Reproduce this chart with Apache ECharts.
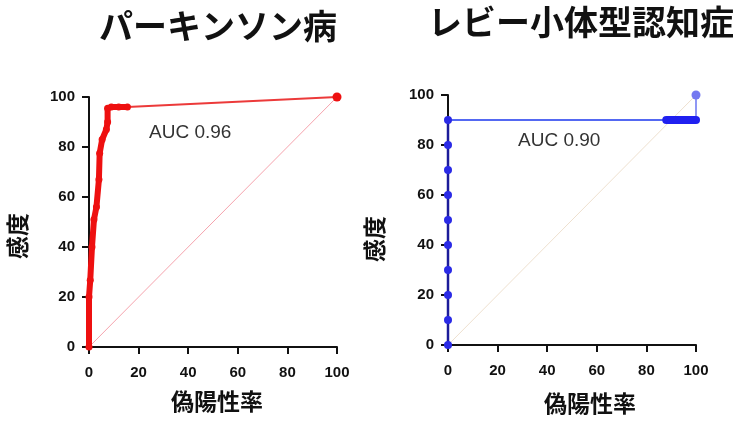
<!DOCTYPE html>
<html>
<head>
<meta charset="utf-8">
<script src="https://cdn.jsdelivr.net/npm/echarts@6/dist/echarts.min.js"></script>
<style>
  html, body { margin: 0; padding: 0; background: #fff; }
  #chart { width: 740px; height: 421px; }
</style>
</head>
<body>
<div id="chart"></div>
<script>
// パーキンソン病 ROC (偽陽性率 %, 感度 %)
const pdFpr = [0, 0, 0.5, 1.2, 2, 3, 4, 4.3, 5.3, 7, 7.5, 7.5, 9, 12, 15.5];
const pdTpr = [0, 20, 26.7, 40, 51, 56, 67, 77.5, 83, 87, 90, 95.5, 96, 96, 96];
const pdTailFpr = [15.5, 100];
const pdTailTpr = [96, 100];

// レビー小体型認知症 ROC
const dlbAxisFpr = [0, 0, 0, 0, 0, 0, 0, 0, 0, 0];
const dlbAxisTpr = [0, 10, 20, 30, 40, 50, 60, 70, 80, 90];
const dlbLineFpr = [0, 88];
const dlbLineTpr = [90, 90];
const dlbBlobFpr = [88, 90, 92, 94, 96, 98, 100];
const dlbBlobTpr = [90, 90, 90, 90, 90, 90, 90];
const dlbTopFpr = [100, 100];
const dlbTopTpr = [90, 100];

const diagonal = [[0, 0], [100, 100]];

const titles = ['パーキンソン病', 'レビー小体型認知症'];
const aucLabels = ['AUC 0.96', 'AUC 0.90'];
const xName = '偽陽性率';
const yName = '感度';

const zip = (xs, ys) => xs.map((x, i) => [x, ys[i]]);

const cjk = '"Noto Sans CJK JP", sans-serif';
const latin = '"Liberation Sans", Arial, sans-serif';

const labelStyle = { color: '#111', fontSize: 15, fontWeight: 'bold', fontFamily: latin };
const nameStyle = { fontSize: 23, fontWeight: 'bold', fill: '#111', fontFamily: cjk };

// 目盛り線は透明な splitLine と一緒に出す
const axisCommon = () => ({
  type: 'value', min: 0, max: 100, interval: 20,
  axisLine: { show: true, onZero: false, lineStyle: { color: '#111', width: 2 } },
  axisTick: { show: true, inside: false, length: 7, lineStyle: { color: '#111', width: 2 } },
  splitLine: { show: true, lineStyle: { color: 'rgba(0,0,0,0)', width: 0 } },
});

const makeX = (gridIndex) => ({
  ...axisCommon(), gridIndex,
  axisLabel: { ...labelStyle, margin: 18 },
});

const makeY = (gridIndex) => ({
  ...axisCommon(), gridIndex,
  axisLabel: { ...labelStyle, margin: 14 },
});

const chart = echarts.init(document.getElementById('chart'));

const option = {
  backgroundColor: '#fff',
  animation: false,
  title: [
    {
      text: titles[0], left: 213, top: 4, textAlign: 'center',
      textStyle: { fontSize: 34, fontWeight: 'bold', color: '#111', fontFamily: cjk },
    },
    {
      text: titles[1], left: 576, top: 0, textAlign: 'center',
      textStyle: { fontSize: 34, fontWeight: 'bold', color: '#111', fontFamily: cjk },
    },
  ],
  graphic: [
    { type: 'text', left: 149, top: 123, style: { text: aucLabels[0], fontSize: 19, fill: '#333', fontFamily: latin } },
    { type: 'text', left: 518, top: 131, style: { text: aucLabels[1], fontSize: 19, fill: '#333', fontFamily: latin } },
    // 軸名
    { type: 'text', left: 171, top: 390, style: { text: xName, ...nameStyle } },
    { type: 'text', left: 544, top: 392, style: { text: xName, ...nameStyle } },
    { type: 'text', x: 6, y: 259, rotation: Math.PI / 2, style: { text: yName, ...nameStyle } },
    { type: 'text', x: 363, y: 262, rotation: Math.PI / 2, style: { text: yName, ...nameStyle } },
  ],
  grid: [
    { left: 89, top: 97, width: 248, height: 250 },
    { left: 448, top: 95, width: 248, height: 250 },
  ],
  xAxis: [makeX(0), makeX(1)],
  yAxis: [makeY(0), makeY(1)],
  series: [
    // 参照線
    {
      type: 'line', xAxisIndex: 0, yAxisIndex: 0,
      data: diagonal, showSymbol: false,
      lineStyle: { color: '#f5a3ad', width: 1 }, z: 1,
    },
    {
      type: 'line', xAxisIndex: 1, yAxisIndex: 1,
      data: diagonal, showSymbol: false,
      lineStyle: { color: '#eee0cf', width: 1 }, z: 1,
    },
    // パーキンソン病
    {
      type: 'line', xAxisIndex: 0, yAxisIndex: 0,
      data: zip(pdFpr, pdTpr),
      symbol: 'circle', symbolSize: 7,
      itemStyle: { color: '#ee1010' },
      lineStyle: { color: '#ee1010', width: 6 }, z: 4,
    },
    {
      type: 'line', xAxisIndex: 0, yAxisIndex: 0,
      data: zip(pdTailFpr, pdTailTpr),
      symbol: 'circle',
      symbolSize: (v) => (v[0] === 100 ? 9 : 0),
      itemStyle: { color: '#ee1010' },
      lineStyle: { color: '#ec3a3a', width: 2 }, z: 3,
    },
    // レビー小体型認知症
    {
      type: 'line', xAxisIndex: 1, yAxisIndex: 1,
      data: zip(dlbLineFpr, dlbLineTpr), showSymbol: false,
      lineStyle: { color: '#5468f2', width: 2 }, z: 3,
    },
    {
      type: 'line', xAxisIndex: 1, yAxisIndex: 1,
      data: zip(dlbBlobFpr, dlbBlobTpr),
      symbol: 'circle', symbolSize: 8,
      itemStyle: { color: '#2020f0' },
      lineStyle: { color: '#2020f0', width: 8 }, z: 4,
    },
    {
      type: 'line', xAxisIndex: 1, yAxisIndex: 1,
      data: zip(dlbTopFpr, dlbTopTpr),
      symbol: 'circle',
      symbolSize: (v) => (v[1] === 100 ? 9 : 0),
      itemStyle: { color: '#7478f0' },
      lineStyle: { color: '#6a74f0', width: 1.5 }, z: 3,
    },
    {
      type: 'line', xAxisIndex: 1, yAxisIndex: 1,
      data: zip(dlbAxisFpr, dlbAxisTpr),
      symbol: 'circle', symbolSize: 8,
      itemStyle: { color: '#2a2ae6' },
      lineStyle: { color: '#1c1c9a', width: 2.5 }, z: 4,
    },
  ],
};

chart.setOption(option);
</script>
</body>
</html>
